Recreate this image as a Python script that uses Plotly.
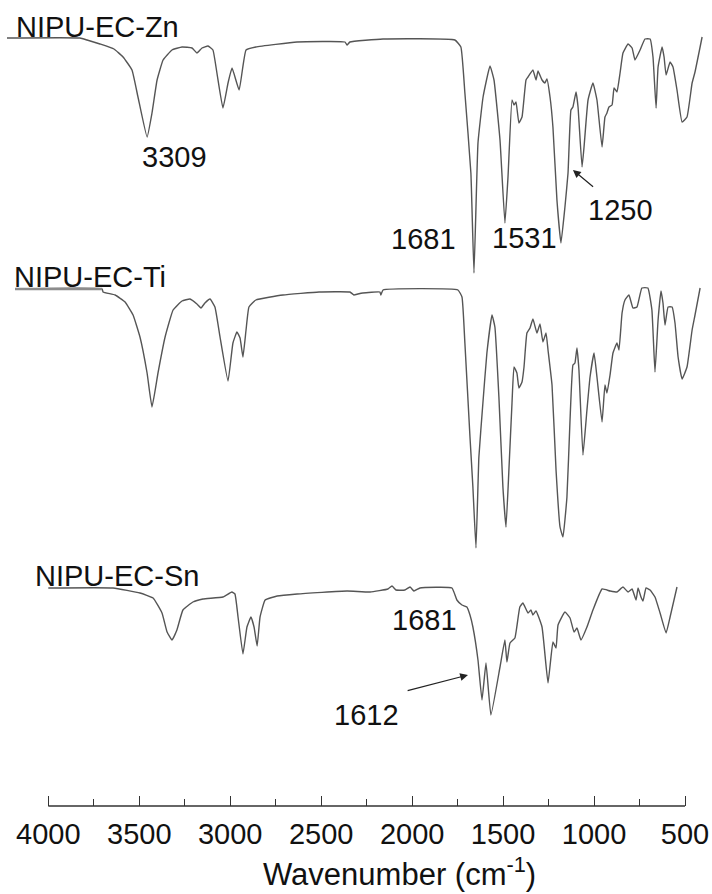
import plotly.graph_objects as go

# ---- data (apparent wavenumber on the shared axis, transmittance a.u.) ----
zn_wn = [4227, 3826, 3787, 3716, 3639, 3589, 3540, 3507, 3457, 3430, 3402, 3369, 3320, 3265,
         3210, 3183, 3155, 3122, 3095, 3073, 3040, 3012, 2990, 2951, 2913, 2859, 2633, 2369,
         2358, 2342, 2160, 1765, 1732, 1710, 1677, 1660, 1638, 1610, 1572, 1550, 1517, 1490,
         1473, 1451, 1440, 1429, 1413, 1396, 1374, 1363, 1336, 1319, 1308, 1286, 1270, 1259,
         1242, 1226, 1204, 1182, 1160, 1143, 1127, 1116, 1099, 1088, 1066, 1055, 1033, 1006,
         984, 956, 940, 929, 918, 901, 890, 874, 857, 841, 813, 791, 775, 747, 720, 692, 676,
         659, 648, 626, 615, 604, 582, 566, 544, 516, 489, 461, 445, 406]
zn_t = [768, 768, 766, 762, 757, 749, 736, 709, 669, 693, 726, 746, 756, 759,
        758, 753, 758, 760, 756, 733, 698, 723, 738, 716, 756, 759, 764, 764,
        761, 764, 767, 766, 759, 713, 633, 533, 663, 709, 740, 726, 666, 583,
        629, 706, 701, 704, 683, 689, 726, 729, 736, 726, 735, 726, 723, 727,
        709, 679, 606, 563, 599, 633, 696, 699, 714, 699, 639, 659, 706, 723,
        706, 659, 689, 693, 699, 701, 718, 714, 733, 753, 762, 758, 746, 756, 767, 767, 749,
        698, 739, 759, 749, 731, 744, 739, 716, 684, 689, 723, 734, 769]

ti_wn = [4183, 3704, 3699, 3633, 3578, 3534, 3496, 3457, 3430, 3397, 3358, 3314, 3265, 3221,
         3183, 3161, 3139, 3111, 3084, 3056, 3012, 2985, 2963, 2946, 2930, 2913, 2897, 2859,
         2710, 2512, 2342, 2320, 2298, 2271, 2177, 2172, 2160, 1748, 1726, 1710, 1682, 1666,
         1649, 1633, 1611, 1589, 1561, 1545, 1523, 1501, 1484, 1468, 1451, 1440, 1424, 1413,
         1396, 1385, 1369, 1352, 1336, 1314, 1297, 1281, 1264, 1253, 1231, 1209, 1187, 1171,
         1149, 1132, 1116, 1105, 1094, 1083, 1061, 1039, 1022, 1000, 984, 956, 940, 929, 912,
         896, 874, 863, 846, 830, 808, 786, 764, 737, 704, 682, 665, 648, 632, 621, 610, 593,
         571, 555, 538, 516, 489, 461, 445, 417]
ti_t = [517, 517, 514, 511, 504, 491, 469, 433, 399, 433, 469, 496, 505, 507,
        502, 498, 503, 507, 499, 469, 425, 463, 474, 468, 449, 476, 499, 506,
        511, 514, 514, 511, 512, 513, 514, 511, 516, 516, 509, 463, 369, 319,
        258, 349, 403, 453, 491, 479, 409, 319, 279, 336, 403, 439, 433, 418,
        424, 439, 473, 478, 487, 473, 482, 464, 473, 456, 421, 336, 279, 269,
        309, 386, 441, 443, 458, 436, 351, 396, 429, 453, 429, 384, 421, 413, 431,
        453, 463, 456, 493, 506, 511, 498, 499, 518, 518, 496, 434, 486, 515, 503, 481, 499,
        499, 483, 449, 427, 439, 476, 491, 518]

sn_wn = [4000, 3644, 3496, 3424, 3375, 3347, 3320, 3293, 3260, 3205, 3150, 3040, 2991, 2974,
         2957, 2930, 2908, 2886, 2869, 2852, 2836, 2808, 2742, 2632, 2358, 2231, 2133, 2111,
         2089, 2040, 2012, 1990, 1957, 1781, 1754, 1726, 1699, 1682, 1666, 1638, 1616, 1594,
         1567, 1517, 1490, 1479, 1462, 1435, 1408, 1391, 1363, 1347, 1336, 1319, 1286, 1253,
         1226, 1209, 1198, 1160, 1132, 1110, 1094, 1072, 1039, 1006, 956, 912, 874, 841, 813,
         791, 769, 758, 742, 731, 714, 692, 665, 637, 604, 582, 544]
sn_t = [218, 218, 213, 208, 193, 174, 166, 176, 196, 204, 207, 209, 214, 212,
        189, 152, 179, 189, 179, 160, 189, 206, 210, 212, 215, 214, 217, 220,
        216, 216, 219, 215, 218, 218, 206, 201, 199, 191, 179, 146, 106, 143,
        91, 139, 166, 144, 163, 168, 199, 203, 193, 196, 191, 195, 179, 123,
        164, 158, 181, 194, 188, 174, 178, 166, 179, 196, 217, 215, 214, 219, 214,
        217, 206, 218, 209, 205, 218, 216, 209, 193, 173, 189, 219]

tick_vals = [4000, 3500, 3000, 2500, 2000, 1500, 1000, 500]
tick_text = ["4000", "3500", "3000", "2500", "2000", "1500", "1000", "500"]
minor_vals = [3750, 3250, 2750, 2250, 1750, 1250, 750]

FONT = "Liberation Sans, Arial, sans-serif"
LINE = "#555555"

fig = go.Figure()
for wn, t in [(zn_wn, zn_t), (ti_wn, ti_t), (sn_wn, sn_t)]:
    fig.add_trace(go.Scatter(x=wn, y=t, mode="lines",
                             line=dict(color=LINE, width=1.4, shape="spline", smoothing=0.35),
                             showlegend=False, hoverinfo="skip"))
# lighter lead-in segment of the Ti spectrum
fig.add_trace(go.Scatter(x=ti_wn[:2], y=ti_t[:2], mode="lines",
                         line=dict(color="#8c8c8c", width=2.5),
                         showlegend=False, hoverinfo="skip"))

# axis line spanning 4000 -> 500 only
fig.add_shape(type="line", xref="x", yref="paper", x0=tick_vals[0], x1=tick_vals[-1],
              y0=0, y1=0, line=dict(color="#333333", width=1.4))

tf = dict(family=FONT, size=29, color="#111111")
ann = []
def label(text, x, y, xanchor="center"):
    ann.append(dict(text=text, x=x, y=y, xref="x", yref="y", showarrow=False,
                    font=tf, xanchor=xanchor, yanchor="middle"))

label("NIPU-EC-Zn", 4189, 779, "left")
label("NIPU-EC-Ti", 4200, 529, "left")
label("NIPU-EC-Sn", 4084, 230, "left")
label("3309", 3309, 649)
label("1681", 1935, 567)
label("1531", 1385, 568)
label("1250", 857, 596)
label("1681", 1930, 186)
label("1612", 2253, 91)

for (tx, ty, hx, hy) in [(997, 618, 1116, 636), (2033, 115, 1693, 131)]:
    ann.append(dict(x=hx, y=hy, ax=tx, ay=ty, xref="x", yref="y", axref="x", ayref="y",
                    text="", showarrow=True, arrowhead=2, arrowsize=1.3, arrowwidth=1.2,
                    arrowcolor="#222222"))

ann.append(dict(text="Wavenumber (cm<sup>-1</sup>)", x=2067, y=0, xref="x", yref="paper",
                yshift=-66, showarrow=False, font=dict(family=FONT, size=31, color="#111111"),
                xanchor="center", yanchor="middle"))

fig.update_layout(
    width=712, height=894,
    margin=dict(l=0, r=0, t=0, b=88),
    paper_bgcolor="white", plot_bgcolor="white",
    annotations=ann,
    xaxis=dict(range=[4265.5, 351.6], tickvals=tick_vals, ticktext=tick_text,
               ticks="inside", ticklen=10, tickwidth=1.3, tickcolor="#333333",
               showline=False, showgrid=False, zeroline=False,
               tickfont=tf, ticklabelstandoff=8,
               minor=dict(tickvals=minor_vals, ticks="inside", ticklen=7,
                          tickwidth=1.3, tickcolor="#333333", showgrid=False)),
    yaxis=dict(range=[0, 806], visible=False, showgrid=False, zeroline=False),
)

fig.write_html("out.html", config={"displayModeBar": False},
               post_script="document.body.style.margin='0';document.body.style.padding='0';"
                           "document.documentElement.style.overflow='hidden';")
